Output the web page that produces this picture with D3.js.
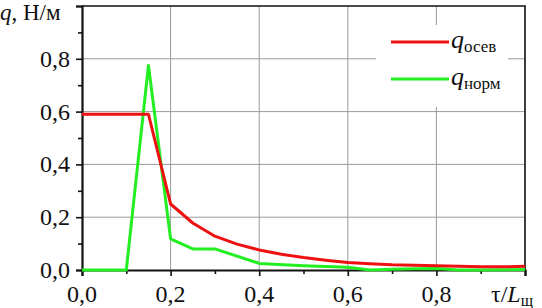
<!DOCTYPE html>
<html>
<head>
<meta charset="utf-8">
<script src="https://cdn.jsdelivr.net/npm/d3@7"></script>
<style>
  body { margin: 0; background: #fff; }
</style>
</head>
<body>
<svg width="542" height="308"></svg>
<script>
// q_осев (red) and q_норм (green) vs tau/L
const tauOsev = [0, 0.15, 0.2, 0.25, 0.3, 0.35, 0.4, 0.45, 0.5, 0.55, 0.6, 0.65, 0.7, 0.75, 0.8, 0.85, 0.9, 0.95, 1.0];
const qOsev   = [0.59, 0.59, 0.25, 0.178, 0.128, 0.098, 0.076, 0.06, 0.047, 0.037, 0.028, 0.024, 0.02, 0.018, 0.016, 0.014, 0.012, 0.012, 0.014];

const tauNorm = [0, 0.1, 0.15, 0.2, 0.25, 0.3, 0.4, 0.5, 0.6, 0.65, 0.7, 0.75, 0.8, 0.85, 0.9, 1.0];
const qNorm   = [0, 0, 0.775, 0.118, 0.08, 0.08, 0.025, 0.016, 0.01, 0, 0.003, 0.005, 0.006, 0, 0, 0.002];

const xTicks = [0, 0.2, 0.4, 0.6, 0.8];
const xTickLabels = ["0,0", "0,2", "0,4", "0,6", "0,8"];
const yTicks = [0, 0.2, 0.4, 0.6, 0.8];
const yTickLabels = ["0,0", "0,2", "0,4", "0,6", "0,8"];
const minorTicks = [0.1, 0.3, 0.5, 0.7, 0.9];

const serif = "'Liberation Serif', 'Times New Roman', 'DejaVu Serif', serif";
const svg = d3.select("svg").attr("font-family", serif);
const x = d3.scaleLinear().domain([0, 1]).range([82, 525]);
const y = d3.scaleLinear().domain([0, 1]).range([270, 6]);

// grid
svg.selectAll(".gx").data([0.2, 0.4, 0.6, 0.8]).enter().append("line")
  .attr("x1", d => x(d)).attr("x2", d => x(d))
  .attr("y1", y(0)).attr("y2", y(1))
  .attr("stroke", "#9a9a9a").attr("stroke-width", 1);
svg.selectAll(".gy").data([0.2, 0.4, 0.6, 0.8]).enter().append("line")
  .attr("x1", x(0)).attr("x2", x(1))
  .attr("y1", d => y(d)).attr("y2", d => y(d))
  .attr("stroke", "#9a9a9a").attr("stroke-width", 1);

// frame top/right
svg.append("path")
  .attr("d", `M${x(0)},${y(1)}H${x(1)}V${y(0)}`)
  .attr("fill", "none").attr("stroke", "#111").attr("stroke-width", 1.6);

// axes
const xAxis = d3.axisBottom(x).tickValues([0, 0.2, 0.4, 0.6, 0.8, 1]).tickSize(6).tickFormat("");
const yAxis = d3.axisLeft(y).tickValues([0, 0.2, 0.4, 0.6, 0.8, 1]).tickSize(6).tickFormat("");
const gx = svg.append("g").attr("transform", `translate(0,${y(0)})`).call(xAxis);
const gy = svg.append("g").attr("transform", `translate(${x(0)},0)`).call(yAxis);
svg.append("g").attr("transform", `translate(0,${y(0)})`)
  .call(d3.axisBottom(x).tickValues(minorTicks).tickSize(4).tickFormat(""))
  .select(".domain").remove();
svg.append("g").attr("transform", `translate(${x(0)},0)`)
  .call(d3.axisLeft(y).tickValues(minorTicks).tickSize(4).tickFormat(""))
  .select(".domain").remove();
svg.selectAll(".tick line").attr("stroke", "#111").attr("stroke-width", 1.6);
[gx, gy].forEach(g => g.select(".domain").attr("stroke", "#111").attr("stroke-width", 2.2));

// tick labels
svg.selectAll(".xl").data(xTicks).enter().append("text")
  .attr("x", d => x(d)).attr("y", 302).attr("fill", "#111")
  .attr("text-anchor", "middle").attr("font-size", 24)
  .text((d, i) => xTickLabels[i]);
svg.selectAll(".yl").data(yTicks).enter().append("text")
  .attr("x", 70).attr("y", d => y(d) + 8).attr("fill", "#111")
  .attr("text-anchor", "end").attr("font-size", 24)
  .text((d, i) => yTickLabels[i]);

// axis titles
const yt = svg.append("text").attr("x", 0).attr("y", 20).attr("font-size", 23).attr("fill", "#111");
yt.append("tspan").attr("font-style", "italic").text("q");
yt.append("tspan").text(", Н/м");
const xt = svg.append("text").attr("x", 491).attr("y", 302).attr("font-size", 24).attr("fill", "#111");
xt.append("tspan").text("τ/");
xt.append("tspan").attr("font-style", "italic").text("L");
xt.append("tspan").attr("font-size", 16).attr("dy", 4).text("щ");

// lines
const line = d3.line().x(d => x(d[0])).y(d => y(d[1]));
svg.append("path").datum(tauNorm.map((t, i) => [t, qNorm[i]]))
  .attr("d", line).attr("fill", "none").attr("stroke", "#22ee22")
  .attr("stroke-width", 3).attr("stroke-linejoin", "round");
svg.append("path").datum(tauOsev.map((t, i) => [t, qOsev[i]]))
  .attr("d", line).attr("fill", "none").attr("stroke", "#ee1111")
  .attr("stroke-width", 3).attr("stroke-linejoin", "round");

// legend
svg.append("rect").attr("x", 376).attr("y", 25).attr("width", 132).attr("height", 82).attr("fill", "#fff");
const legend = [
  { sub: "осев", color: "#ee1111", yy: 42 },
  { sub: "норм", color: "#22ee22", yy: 79 }
];
legend.forEach(l => {
  svg.append("line").attr("x1", 391).attr("x2", 449).attr("y1", l.yy).attr("y2", l.yy)
    .attr("stroke", l.color).attr("stroke-width", 3);
  const t = svg.append("text").attr("x", 451).attr("y", l.yy + 6).attr("font-size", 26).attr("fill", "#111");
  t.append("tspan").attr("font-style", "italic").text("q");
  t.append("tspan").attr("font-size", 17).attr("dy", 4).text(l.sub);
});
</script>
</body>
</html>
